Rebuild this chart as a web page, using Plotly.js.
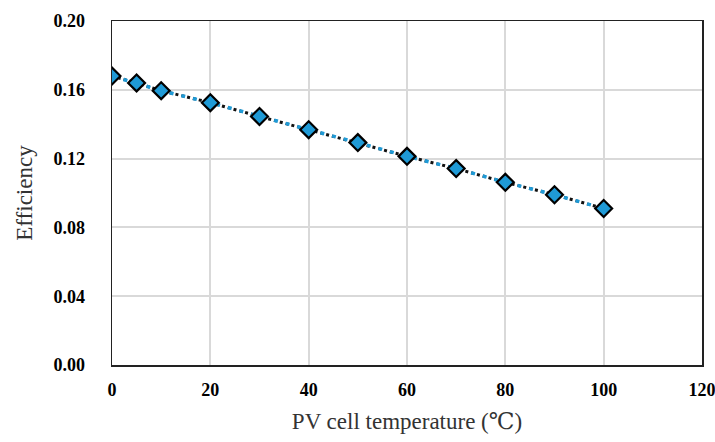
<!DOCTYPE html>
<html>
<head>
<meta charset="utf-8">
<script src="https://cdn.plot.ly/plotly-3.0.1.min.js"></script>
<style>html,body{margin:0;padding:0;background:#fff;} #chart{width:715px;height:442px;}</style>
</head>
<body>
<div id="chart"></div>
<script>
const temperature = [0, 5, 10, 20, 30, 40, 50, 60, 70, 80, 90, 100];
const efficiency = [0.168, 0.164, 0.1595, 0.1525, 0.1445, 0.1368, 0.1293, 0.1213, 0.1142, 0.1062, 0.0990, 0.0910];
const xTicks = [0, 20, 40, 60, 80, 100, 120];
const yTicks = [0.00, 0.04, 0.08, 0.12, 0.16, 0.20];

const traces = [
  {x: temperature, y: efficiency, type: 'scatter', mode: 'lines',
   line: {color: '#111111', width: 3, dash: '3px,3px'}, hoverinfo: 'skip', showlegend: false},
  {x: temperature, y: efficiency, type: 'scatter', mode: 'lines+markers',
   line: {color: '#1f9ad6', width: 3.5, dash: '4px,8px'},
   marker: {symbol: 'diamond', size: 13, color: '#1f9ad6', line: {color: '#000000', width: 2.2}},
   showlegend: false}
];

const serif = 'Liberation Serif, DejaVu Serif, serif';
const tickFont = {family: serif, size: 18, color: '#000', weight: 700};

const layout = {
  width: 715, height: 442,
  margin: {l: 112, r: 13, t: 21, b: 77},
  paper_bgcolor: '#fff', plot_bgcolor: '#fff',
  showlegend: false,
  xaxis: {
    range: [0, 120], tickvals: xTicks, ticktext: xTicks.map(String),
    showgrid: true, gridcolor: '#d9d9d9', gridwidth: 2,
    zeroline: false, showline: true, linecolor: '#222', linewidth: 1.5, mirror: true,
    ticks: '', tickfont: tickFont, ticklabelstandoff: 8, ticklabeloverflow: 'allow',
    title: {text: 'PV cell temperature (℃)', font: {family: serif, size: 23, color: '#333'}, standoff: 14}
  },
  yaxis: {
    range: [0, 0.2], tickvals: yTicks, ticktext: yTicks.map(v => v.toFixed(2)),
    showgrid: true, gridcolor: '#d9d9d9', gridwidth: 2,
    zeroline: false, showline: true, linecolor: '#222', linewidth: 1.5, mirror: true,
    ticks: '', tickfont: tickFont, ticklabelstandoff: 22, ticklabeloverflow: 'allow',
    title: {text: 'Efficiency', font: {family: serif, size: 23, color: '#333'}, standoff: 14}
  }
};

Plotly.newPlot('chart', traces, layout, {displayModeBar: false, staticPlot: true});
</script>
</body>
</html>
